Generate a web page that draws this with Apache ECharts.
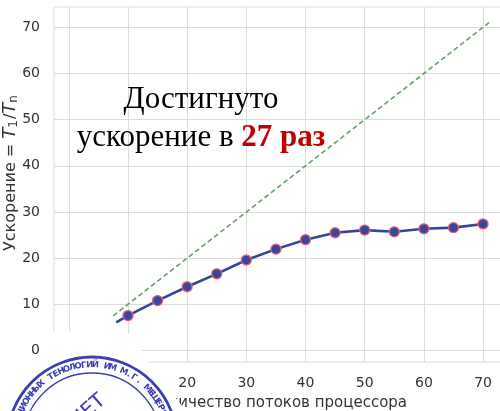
<!DOCTYPE html>
<html>
<head>
<meta charset="utf-8">
<script src="https://cdn.jsdelivr.net/npm/echarts@6/dist/echarts.min.js"></script>
<style>html,body{margin:0;padding:0;background:#fff}#c{width:500px;height:411px}</style>
</head>
<body>
<div id="c"></div>
<script>
// ---- data ----
const threads = [8, 10, 15, 20, 25, 30, 35, 40, 45, 50, 55, 60, 65, 70];
const speedup = [6.1, 7.55, 10.8, 13.8, 16.6, 19.6, 21.95, 24.0, 25.5, 26.07, 25.7, 26.35, 26.6, 27.4];
const idealX = [7.5, 71];
const idealY = [7.5, 71];
const xTicks = [0, 10, 20, 30, 40, 50, 60, 70];
const yTicks = [0, 10, 20, 30, 40, 50, 60, 70];
const xLabel = 'Количество потоков процессора';
const noteLine1 = 'Достигнуто';
const noteLine2a = 'ускорение в ';
const noteLine2b = '27 раз';
const stampRing = 'ЦИОННЫХ ТЕНОЛОГИЙ ИМ М.Г. МЕЩЕРЯКОВА';
const stampCenter = 'ОТЧЕТ';

const chart = echarts.init(document.getElementById('c'), null, {renderer: 'canvas'});

const measured = threads.map((x, i) => i === 0 ? {value: [x, speedup[i]], symbol: 'none'} : [x, speedup[i]]);
const ideal = idealX.map((x, i) => [x, idealY[i]]);

// stamp graphics
const SC = {x: 92, y: 442};
const stampBlue = '#3b3db5';
const graphics = [];
graphics.push({type: 'polygon', z: 100, shape: {points: [[46, 331], [132, 334], [150, 365], [186, 411], [0, 411], [0, 366], [46, 366]]}, style: {fill: '#ffffff'}});
graphics.push({type: 'circle', z: 101, shape: {cx: SC.x, cy: SC.y, r: 85}, style: {fill: 'none', stroke: stampBlue, lineWidth: 2.8}});
graphics.push({type: 'circle', z: 101, shape: {cx: SC.x, cy: SC.y, r: 69}, style: {fill: 'none', stroke: stampBlue, lineWidth: 1.3}});
const chars = stampRing.split('');
const step = 4.35 * Math.PI / 180;
const start = -67 * Math.PI / 180;
chars.forEach((ch, i) => {
  const th = start + i * step;
  const r = 77;
  graphics.push({
    type: 'text', z: 102,
    x: SC.x + r * Math.sin(th), y: SC.y - r * Math.cos(th),
    rotation: -th,
    style: {text: ch, fontSize: 8.5, fontWeight: 'bold', fontFamily: 'DejaVu Sans', fill: stampBlue, align: 'center', verticalAlign: 'middle'}
  });
});
graphics.push({type: 'text', z: 102, x: 103, y: 398, rotation: 0.72,
  style: {text: stampCenter, fontSize: 20, fontFamily: 'DejaVu Sans', fill: stampBlue, align: 'right', verticalAlign: 'middle'}});
// annotation
graphics.push({type: 'text', z: 90, x: 201, y: 81,
  style: {
    text: noteLine1 + '\n' + noteLine2a + '{r|' + noteLine2b + '}',
    fontFamily: 'Liberation Serif', fontSize: 31, lineHeight: 38, fill: '#000', align: 'center', verticalAlign: 'top',
    rich: {r: {fill: '#c00000', fontWeight: 'bold', fontFamily: 'Liberation Serif', fontSize: 31, lineHeight: 38}}
  }});

const option = {
  animation: false,
  backgroundColor: '#ffffff',
  grid: {left: 54, top: 7, right: -2, bottom: 49, show: true, borderColor: '#dcdcdc', borderWidth: 1, containLabel: false, outerBoundsMode: 'none'},
  xAxis: {
    type: 'value', min: -2.5, max: 73.2,
    axisLine: {show: false},
    axisTick: {show: false, customValues: xTicks},
    splitLine: {show: true, lineStyle: {color: '#dcdcdc', width: 1}},
    axisLabel: {color: '#333', fontSize: 14, fontFamily: 'DejaVu Sans', margin: 14, customValues: xTicks},
    name: xLabel, nameLocation: 'middle', nameGap: 34, nameMoveOverlap: false,
    nameTextStyle: {color: '#333', fontSize: 15, fontFamily: 'DejaVu Sans'}
  },
  yAxis: {
    type: 'value', min: -2.5, max: 74.4,
    axisLine: {show: false},
    axisTick: {show: false, customValues: yTicks},
    splitLine: {show: true, lineStyle: {color: '#dcdcdc', width: 1}},
    axisLabel: {color: '#333', fontSize: 14, fontFamily: 'DejaVu Sans', margin: 14, customValues: yTicks},
    name: 'Ускорение = {i|T}{s|1}/{i|T}{s|n}', nameLocation: 'middle', nameGap: 34, nameMoveOverlap: false,
    nameTextStyle: {color: '#333', fontSize: 16, fontFamily: 'DejaVu Sans', padding: [0, 0, 0, 24],
      rich: {i: {fontStyle: 'italic', fontSize: 18, fontFamily: 'DejaVu Sans', color: '#333'},
             s: {fontSize: 12, fontFamily: 'DejaVu Sans', color: '#333', verticalAlign: 'bottom', padding: [7, 1, 0, 0]}}}
  },
  series: [
    {type: 'line', data: ideal, symbol: 'none', z: 2,
      lineStyle: {color: '#62a262', width: 1.6, type: [5, 3]}},
    {type: 'line', data: measured, symbol: 'circle', symbolSize: 10, z: 3,
      lineStyle: {color: '#34449a', width: 2.6},
      itemStyle: {color: '#3a469c', borderColor: '#e0607a', borderWidth: 1.3}}
  ],
  graphic: graphics
};
chart.setOption(option);
</script>
</body>
</html>
